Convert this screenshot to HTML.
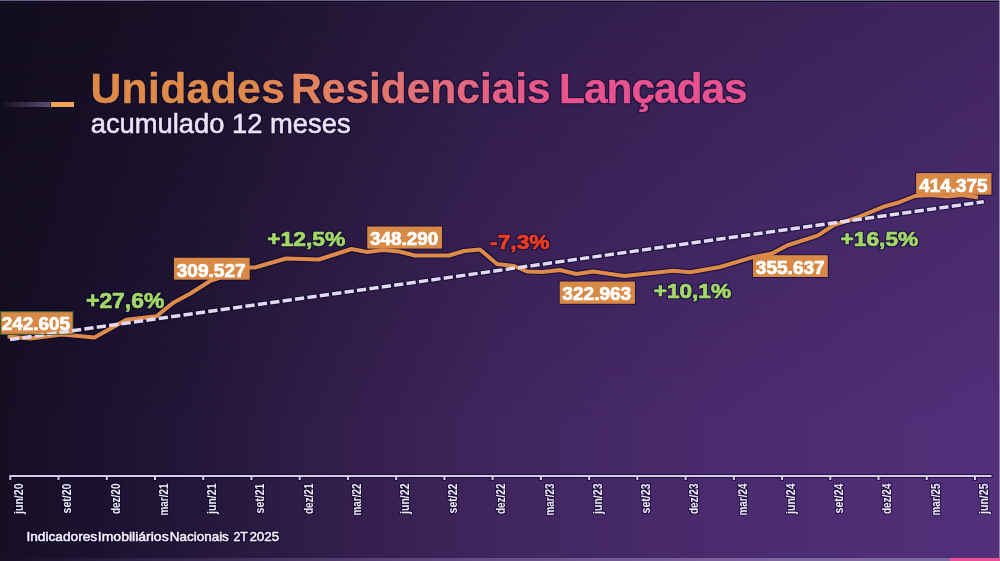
<!DOCTYPE html>
<html><head><meta charset="utf-8">
<style>
html,body{margin:0;padding:0;}
body{width:1000px;height:561px;position:relative;overflow:hidden;font-family:"Liberation Sans",sans-serif;background:#1a1230;}
.abs{position:absolute;}
#bg{left:0;top:0;width:1000px;height:561px;background:linear-gradient(90deg,#110d1c 0%,#1a1128 20%,#2e1c48 50%,#382254 75%,#40255f 100%);}
#bg2{left:0;top:0;width:1000px;height:561px;background:linear-gradient(90deg,#160f23 0%,#1c1230 10%,#24173a 20%,#2f1c47 30%,#40265e 50%,#4a2b6e 72%,#52307a 100%);
-webkit-mask-image:linear-gradient(180deg,transparent 0%,#000 75%);mask-image:linear-gradient(180deg,transparent 0%,#000 75%);}
#topline{left:0;top:0;width:1000px;height:1px;background:#6b6275;}
#topline2{left:0;top:1px;width:1000px;height:1px;background:#0b0232;}
#topline3{left:0;top:2px;width:1000px;height:1px;background:rgba(255,255,255,0.05);}
#rightline{left:999px;top:0;width:1px;height:561px;background:#8e8898;}
#strip{left:0;top:558px;width:1000px;height:3px;background:linear-gradient(90deg,rgba(130,105,165,0) 0%,rgba(130,105,165,0.35) 30%,#7e68a0 80%);}
#pink{left:950px;top:558px;width:50px;height:3px;background:#ec4f93;}
#accent1{left:0;top:102px;width:51px;height:5px;background:linear-gradient(90deg,rgba(90,75,110,0),#5e4e70);}
svg{position:absolute;left:0;top:0;}
text{font-family:"Liberation Sans",sans-serif;}
.lbl{font-weight:700;stroke:#fff;stroke-width:0.7px;}
.pct{font-weight:700;stroke-width:0.7px;}
.ax{font-weight:700;fill:#f2eef8;}
</style></head><body>
<div id="bg" class="abs"></div><div id="bg2" class="abs"></div>
<div id="topline" class="abs"></div><div id="topline2" class="abs"></div><div id="topline3" class="abs"></div>
<div id="rightline" class="abs"></div>
<div id="strip" class="abs"></div><div id="pink" class="abs"></div>
<div id="accent1" class="abs"></div>
<svg width="1000" height="561" viewBox="0 0 1000 561">
<defs><filter id="halo" x="-5%" y="-5%" width="110%" height="110%" color-interpolation-filters="sRGB"><feMorphology in="SourceAlpha" operator="dilate" radius="1" result="d"/><feGaussianBlur in="d" stdDeviation="0.5" result="db"/><feFlood flood-color="#08032e" flood-opacity="0.6"/><feComposite in2="db" operator="in" result="h"/><feMerge><feMergeNode in="h"/><feMergeNode in="SourceGraphic"/></feMerge></filter></defs>
<g filter="url(#halo)">
<rect x="51" y="102" width="23" height="5" fill="#f2a455"/>
<path d="M10.3,480 L10.3,476 L991.6,476 M58.53,476 L58.53,480 M106.77,476 L106.77,480 M155.00,476 L155.00,480 M203.24,476 L203.24,480 M251.48,476 L251.48,480 M299.71,476 L299.71,480 M347.94,476 L347.94,480 M396.18,476 L396.18,480 M444.42,476 L444.42,480 M492.65,476 L492.65,480 M540.88,476 L540.88,480 M589.12,476 L589.12,480 M637.35,476 L637.35,480 M685.59,476 L685.59,480 M733.82,476 L733.82,480 M782.06,476 L782.06,480 M830.29,476 L830.29,480 M878.53,476 L878.53,480 M926.76,476 L926.76,480 M975.00,476 L975.00,480" stroke="#d6cce6" stroke-width="2" fill="none"/><text transform="translate(23.10,483.5) rotate(-90)" text-anchor="end" font-size="12.5" textLength="30.5" lengthAdjust="spacingAndGlyphs" class="ax">jun/20</text><text transform="translate(71.33,483.5) rotate(-90)" text-anchor="end" font-size="12.5" textLength="30" lengthAdjust="spacingAndGlyphs" class="ax">set/20</text><text transform="translate(119.57,483.5) rotate(-90)" text-anchor="end" font-size="12.5" textLength="30.6" lengthAdjust="spacingAndGlyphs" class="ax">dez/20</text><text transform="translate(167.81,483.5) rotate(-90)" text-anchor="end" font-size="12.5" textLength="32" lengthAdjust="spacingAndGlyphs" class="ax">mar/21</text><text transform="translate(216.04,483.5) rotate(-90)" text-anchor="end" font-size="12.5" textLength="30.5" lengthAdjust="spacingAndGlyphs" class="ax">jun/21</text><text transform="translate(264.28,483.5) rotate(-90)" text-anchor="end" font-size="12.5" textLength="30" lengthAdjust="spacingAndGlyphs" class="ax">set/21</text><text transform="translate(312.51,483.5) rotate(-90)" text-anchor="end" font-size="12.5" textLength="30.6" lengthAdjust="spacingAndGlyphs" class="ax">dez/21</text><text transform="translate(360.75,483.5) rotate(-90)" text-anchor="end" font-size="12.5" textLength="32" lengthAdjust="spacingAndGlyphs" class="ax">mar/22</text><text transform="translate(408.98,483.5) rotate(-90)" text-anchor="end" font-size="12.5" textLength="30.5" lengthAdjust="spacingAndGlyphs" class="ax">jun/22</text><text transform="translate(457.22,483.5) rotate(-90)" text-anchor="end" font-size="12.5" textLength="30" lengthAdjust="spacingAndGlyphs" class="ax">set/22</text><text transform="translate(505.45,483.5) rotate(-90)" text-anchor="end" font-size="12.5" textLength="30.6" lengthAdjust="spacingAndGlyphs" class="ax">dez/22</text><text transform="translate(553.68,483.5) rotate(-90)" text-anchor="end" font-size="12.5" textLength="32" lengthAdjust="spacingAndGlyphs" class="ax">mar/23</text><text transform="translate(601.92,483.5) rotate(-90)" text-anchor="end" font-size="12.5" textLength="30.5" lengthAdjust="spacingAndGlyphs" class="ax">jun/23</text><text transform="translate(650.15,483.5) rotate(-90)" text-anchor="end" font-size="12.5" textLength="30" lengthAdjust="spacingAndGlyphs" class="ax">set/23</text><text transform="translate(698.39,483.5) rotate(-90)" text-anchor="end" font-size="12.5" textLength="30.6" lengthAdjust="spacingAndGlyphs" class="ax">dez/23</text><text transform="translate(746.62,483.5) rotate(-90)" text-anchor="end" font-size="12.5" textLength="32" lengthAdjust="spacingAndGlyphs" class="ax">mar/24</text><text transform="translate(794.86,483.5) rotate(-90)" text-anchor="end" font-size="12.5" textLength="30.5" lengthAdjust="spacingAndGlyphs" class="ax">jun/24</text><text transform="translate(843.09,483.5) rotate(-90)" text-anchor="end" font-size="12.5" textLength="30" lengthAdjust="spacingAndGlyphs" class="ax">set/24</text><text transform="translate(891.33,483.5) rotate(-90)" text-anchor="end" font-size="12.5" textLength="30.6" lengthAdjust="spacingAndGlyphs" class="ax">dez/24</text><text transform="translate(939.56,483.5) rotate(-90)" text-anchor="end" font-size="12.5" textLength="32" lengthAdjust="spacingAndGlyphs" class="ax">mar/25</text><text transform="translate(987.80,483.5) rotate(-90)" text-anchor="end" font-size="12.5" textLength="30.5" lengthAdjust="spacingAndGlyphs" class="ax">jun/25</text>
<polyline fill="none" stroke="#de8a48" stroke-width="4" stroke-linejoin="round" points="7.5,336.5 30,338.5 62,334.5 94.5,337.5 126.3,319.8 156.5,316.3 173.7,302.4 189.9,293.7 209.8,281.2 250,267.5 255,267.5 286,258.5 319,259.5 351.5,249 367,252 383,250 399,251.5 415,255.5 449,255.5 464,251 480,249.5 497,264 514,266 527,271.5 542.5,272 560,270 576.3,274 593.2,271.5 624.4,276 673.5,270.7 690,272.2 720,267 753,257.2 772,253.5 787,245.5 817.6,235.6 833.6,225.2 856,218 883.2,206.8 897.6,202.8 915,196 930,195 947,196.5 962,195 978,197.5"/>
<rect x="173.9" y="257.7" width="75.80" height="22.00" fill="#d98946"/><text x="176.77" y="276.80" font-size="17.78" textLength="68.78" lengthAdjust="spacingAndGlyphs" class="lbl" fill="#ffffff" stroke="#ffffff">309.527</text><rect x="367.2" y="226.5" width="74.90" height="22.10" fill="#d98946"/><text x="369.98" y="245.20" font-size="18.64" textLength="68.22" lengthAdjust="spacingAndGlyphs" class="lbl" fill="#ffffff" stroke="#ffffff">348.290</text><rect x="559.7" y="281.5" width="75.30" height="22.30" fill="#d98946"/><text x="562.37" y="300.00" font-size="18.92" textLength="68.84" lengthAdjust="spacingAndGlyphs" class="lbl" fill="#ffffff" stroke="#ffffff">322.963</text><rect x="752.9" y="255.2" width="74.90" height="21.80" fill="#d98946"/><text x="755.87" y="273.90" font-size="18.06" textLength="68.78" lengthAdjust="spacingAndGlyphs" class="lbl" fill="#ffffff" stroke="#ffffff">355.637</text><rect x="916.1" y="173.1" width="75.40" height="21.60" fill="#d98946"/><text x="919.22" y="191.80" font-size="17.78" textLength="68.35" lengthAdjust="spacingAndGlyphs" class="lbl" fill="#ffffff" stroke="#ffffff">414.375</text>
<line x1="10" y1="339.6" x2="983.8" y2="201.7" stroke="#e2daf0" stroke-width="3.5" stroke-dasharray="9.3 3.215"/>
<rect x="0.7" y="311.75" width="72.30" height="22.55" fill="#d98946" stroke="#3d6630" stroke-width="1"/><text x="1.84" y="330.20" font-size="17.49" textLength="68.12" lengthAdjust="spacingAndGlyphs" class="lbl" fill="#ffffff" stroke="#ffffff">242.605</text><clipPath id="c1"><rect x="0" y="300" width="74" height="34"/></clipPath><line clip-path="url(#c1)" x1="10" y1="339.6" x2="983.8" y2="201.7" stroke="#e2daf0" stroke-width="3.5" stroke-dasharray="9.3 3.215"/>
<text x="86.03" y="307.80" font-size="21.22" textLength="78.29" lengthAdjust="spacingAndGlyphs" class="pct" fill="#a2d966" stroke="#a2d966">+27,6%</text><text x="267.23" y="245.80" font-size="20.93" textLength="78.19" lengthAdjust="spacingAndGlyphs" class="pct" fill="#a2d966" stroke="#a2d966">+12,5%</text><text x="490.09" y="249.00" font-size="20.07" textLength="59.54" lengthAdjust="spacingAndGlyphs" class="pct" fill="#f03c20" stroke="#f03c20">-7,3%</text><text x="653.79" y="298.25" font-size="19.35" textLength="77.22" lengthAdjust="spacingAndGlyphs" class="pct" fill="#a2d966" stroke="#a2d966">+10,1%</text><text x="840.64" y="246.00" font-size="19.50" textLength="77.58" lengthAdjust="spacingAndGlyphs" class="pct" fill="#a2d966" stroke="#a2d966">+16,5%</text>
<linearGradient id="tg" gradientUnits="userSpaceOnUse" x1="93" y1="0" x2="747" y2="0"><stop offset="0" stop-color="#de8a47"/><stop offset="0.24" stop-color="#de8a4a"/><stop offset="0.317" stop-color="#e2845a"/><stop offset="0.469" stop-color="#e37272"/><stop offset="0.592" stop-color="#e46480"/><stop offset="0.70" stop-color="#e8568c"/><stop offset="0.775" stop-color="#e8528f"/><stop offset="1" stop-color="#e8528f"/></linearGradient><text x="90.44" y="102.70" font-size="42.62" textLength="194.44" lengthAdjust="spacing" font-weight="700" fill="url(#tg)" stroke="url(#tg)" stroke-width="0.4">Unidades</text><text x="291.12" y="102.70" font-size="42.62" textLength="259.58" lengthAdjust="spacing" font-weight="700" fill="url(#tg)" stroke="url(#tg)" stroke-width="0.4">Residenciais</text><text x="559.12" y="102.70" font-size="42.62" textLength="188.62" lengthAdjust="spacing" font-weight="700" fill="url(#tg)" stroke="url(#tg)" stroke-width="0.4">Lançadas</text><text x="90.74" y="133.30" font-size="27.66" textLength="259.84" lengthAdjust="spacingAndGlyphs" fill="#ebe3f3" stroke="#ebe3f3" stroke-width="0.6">acumulado 12 meses</text><text x="26.43" y="541.30" font-size="13.24" textLength="70.80" lengthAdjust="spacingAndGlyphs" fill="#f6f2fa" stroke="#f6f2fa" stroke-width="0.5">Indicadores</text><text x="97.80" y="541.30" font-size="13.24" textLength="70.88" lengthAdjust="spacingAndGlyphs" fill="#f6f2fa" stroke="#f6f2fa" stroke-width="0.5">Imobiliários</text><text x="169.89" y="541.30" font-size="13.24" textLength="58.96" lengthAdjust="spacingAndGlyphs" fill="#f6f2fa" stroke="#f6f2fa" stroke-width="0.5">Nacionais</text><text x="233.39" y="541.30" font-size="13.24" textLength="14.21" lengthAdjust="spacingAndGlyphs" fill="#f6f2fa" stroke="#f6f2fa" stroke-width="0.5">2T</text><text x="249.43" y="541.30" font-size="13.24" textLength="29.73" lengthAdjust="spacingAndGlyphs" fill="#f6f2fa" stroke="#f6f2fa" stroke-width="0.5">2025</text>
</g>
</svg>
</body></html>
